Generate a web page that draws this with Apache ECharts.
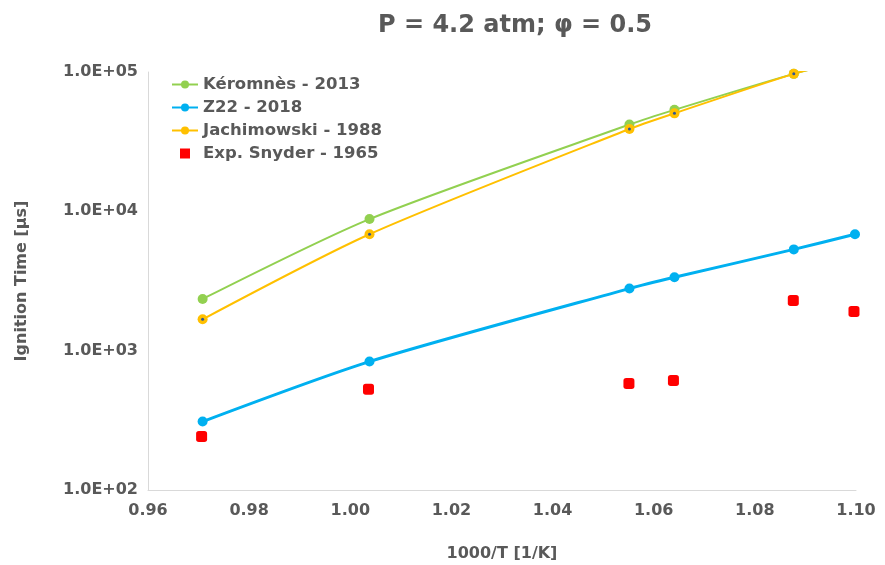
<!DOCTYPE html>
<html>
<head>
<meta charset="utf-8">
<script src="https://cdn.jsdelivr.net/npm/echarts@6/dist/echarts.min.js"></script>
<style>html,body{margin:0;padding:0;background:#fff;}#c{width:885px;height:565px;}</style>
</head>
<body>
<div id="c"></div>
<script>
var xModel = [0.9708, 1.0038, 1.0552, 1.0641, 1.0877, 1.0998];
var keromnes = [2350, 8800, 42000, 53500, 97000, 125000];
var z22 = [310, 835, 2790, 3360, 5330, 6850];
var jachimowski = [1680, 6850, 39000, 50500, 97000, 125000];
var xExp = [0.9706, 1.0036, 1.0551, 1.0639, 1.0876, 1.0996];
var snyder = [242, 528, 582, 610, 2290, 1910];
var yTicks = [100, 1000, 10000, 100000];
var xTicks = [0.96, 0.98, 1.00, 1.02, 1.04, 1.06, 1.08, 1.10];

function pairs(xs, ys){ return xs.map(function(x,i){ return [x, ys[i]]; }); }
function fmtE(v){
  var e = Math.round(Math.log10(v));
  var m = v / Math.pow(10, e);
  var s = e >= 0 ? '+' : '-';
  var a = Math.abs(e);
  return m.toFixed(1) + 'E' + s + (a < 10 ? '0' + a : a);
}
var gray = '#595959';
var font = 'DejaVu Sans';
var chart = echarts.init(document.getElementById('c'));
chart.setOption({
  animation: false,
  title: {
    text: 'P = 4.2 atm; φ = 0.5',
    left: 510, top: 9, textAlign: 'center',
    textStyle: {fontFamily: font, fontWeight: 'bold', fontSize: 24, color: gray}
  },
  legend: {
    orient: 'vertical', left: 166, top: 71, itemGap: 6,
    itemWidth: 26, itemHeight: 10,
    data: ['Kéromnès - 2013', 'Z22 - 2018', 'Jachimowski - 1988',
      {name: 'Exp. Snyder - 1965', icon: 'path://M0 0h10v10H0z'}],
    textStyle: {fontFamily: font, fontWeight: 'bold', fontSize: 16.5, color: gray}
  },
  grid: {left: 148, right: 29, top: 72, bottom: 75, containLabel: false, outerBoundsMode: 'none'},
  xAxis: {
    type: 'value', min: 0.96, max: 1.10, interval: 0.02,
    name: '1000/T [1/K]', nameLocation: 'middle', nameGap: 56,
    nameTextStyle: {fontFamily: font, fontWeight: 'bold', fontSize: 16, color: gray},
    axisLine: {show: true, lineStyle: {color: '#d9d9d9', width: 1}},
    axisTick: {show: false},
    splitLine: {show: false},
    axisLabel: {fontFamily: font, fontWeight: 'bold', fontSize: 16, color: gray, margin: 13,
      formatter: function(v){ return v.toFixed(2); }}
  },
  yAxis: {
    type: 'log', logBase: 10, min: yTicks[0], max: yTicks[yTicks.length-1],
    name: 'Ignition Time [µs]', nameLocation: 'middle', nameGap: 118, nameRotate: 90,
    nameTextStyle: {fontFamily: font, fontWeight: 'bold', fontSize: 16, color: gray},
    axisLine: {show: true, lineStyle: {color: '#d9d9d9', width: 1}},
    axisTick: {show: false},
    splitLine: {show: false},
    axisLabel: {fontFamily: font, fontWeight: 'bold', fontSize: 16, color: gray, margin: 10,
      formatter: fmtE}
  },
  series: [
    {name: 'Kéromnès - 2013', type: 'line', data: pairs(xModel, keromnes), smooth: 0.25, clip: true,
     symbol: 'circle', symbolSize: 10, showAllSymbol: true,
     itemStyle: {color: '#92d050'}, lineStyle: {color: '#92d050', width: 2}},
    {name: 'Z22 - 2018', type: 'line', data: pairs(xModel, z22), smooth: 0.25, clip: true,
     symbol: 'circle', symbolSize: 10,
     itemStyle: {color: '#00b0f0'}, lineStyle: {color: '#00b0f0', width: 3}},
    {name: 'Jachimowski - 1988', type: 'line', data: pairs(xModel, jachimowski), smooth: 0.25, clip: true,
     symbol: 'circle', symbolSize: 10,
     itemStyle: {color: '#ffc000'}, lineStyle: {color: '#ffc000', width: 2}},
    {name: 'jdot', type: 'scatter', data: pairs(xModel, jachimowski), clip: true, silent: true,
     symbol: 'circle', symbolSize: 3, itemStyle: {color: '#2f5597', opacity: 1}, z: 5},
    {name: 'Exp. Snyder - 1965', type: 'scatter', data: pairs(xExp, snyder), clip: true,
     symbol: 'roundRect', symbolSize: 11, symbolKeepAspect: true,
     itemStyle: {color: '#ff0000', opacity: 1}}
  ]
});
</script>
</body>
</html>
